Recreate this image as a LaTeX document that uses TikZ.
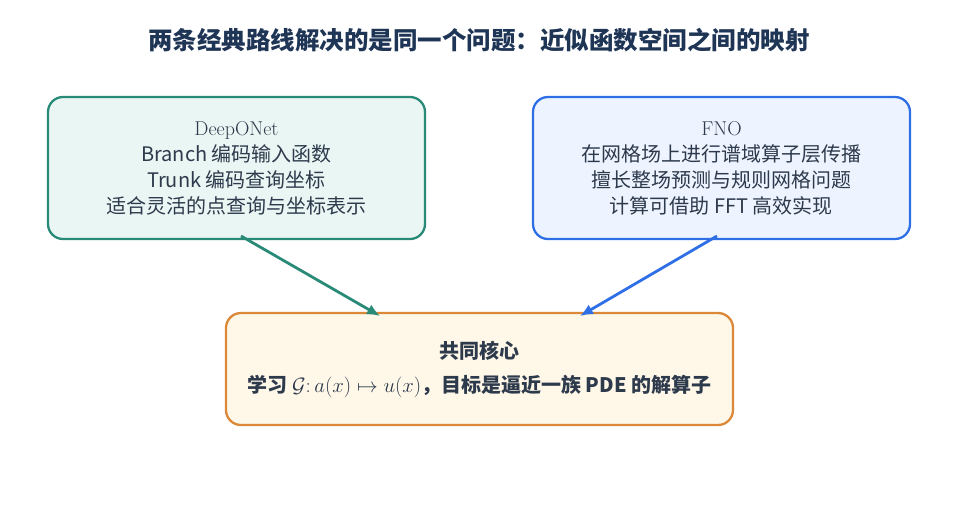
\documentclass[tikz,border=0pt]{standalone}
\usepackage{fontspec}
\setsansfont{Noto Sans CJK SC}
\usetikzlibrary{arrows.meta}
\definecolor{titlec}{HTML}{1F3556}
\definecolor{txtc}{HTML}{2D3A4C}
\definecolor{tealb}{HTML}{2A8A78}
\definecolor{tealf}{HTML}{EAF6F3}
\definecolor{blueb}{HTML}{2F6FE6}
\definecolor{bluef}{HTML}{EEF4FF}
\definecolor{orab}{HTML}{DB8838}
\definecolor{oraf}{HTML}{FFF7E8}
\tikzset{
  box/.style={rounded corners=15pt, line width=2.3pt, align=center, inner sep=0pt, text=txtc, font=\sffamily\fontsize{20}{26}\selectfont},
  conn/.style={line width=2.8pt, -{Latex[length=13pt,width=11pt]}},
  hdr/.style={font=\rmfamily\fontsize{20}{24}\selectfont},
}
\begin{document}
\begin{tikzpicture}[x=1pt,y=-1pt]
\useasboundingbox (0,0) rectangle (958,528);
\node[font=\sffamily\bfseries\fontsize{24.5}{28}\selectfont, text=titlec] (title) at (479,40) {两条经典路线解决的是同一个问题：近似函数空间之间的映射};
\node[box, draw=tealb, fill=tealf, minimum width=377pt, minimum height=142pt] (L) at (236.5,168) {{\rmfamily\fontsize{20}{24}\selectfont DeepONet}\\Branch 编码输入函数\\Trunk 编码查询坐标\\适合灵活的点查询与坐标表示};
\node[box, draw=blueb, fill=bluef, minimum width=377pt, minimum height=142pt] (R) at (721.5,168) {{\rmfamily\fontsize{20}{24}\selectfont FNO}\\在网格场上进行谱域算子层传播\\擅长整场预测与规则网格问题\\计算可借助 FFT 高效实现};
\node[box, draw=orab, fill=oraf, minimum width=507pt, minimum height=112pt, font=\sffamily\bfseries\fontsize{20}{34}\selectfont] (C) at (479.5,369) {共同核心\\学习 $\mathcal{G}\colon a(x)\mapsto u(x)$，目标是逼近一族 PDE 的解算子};
\coordinate (ls) at (241,236);
\coordinate (le) at (380,316);
\coordinate (rs) at (717,236);
\coordinate (re) at (580,316);
\draw[conn, tealb] (ls) -- (le);
\draw[conn, blueb] (rs) -- (re);
\end{tikzpicture}
\end{document}
